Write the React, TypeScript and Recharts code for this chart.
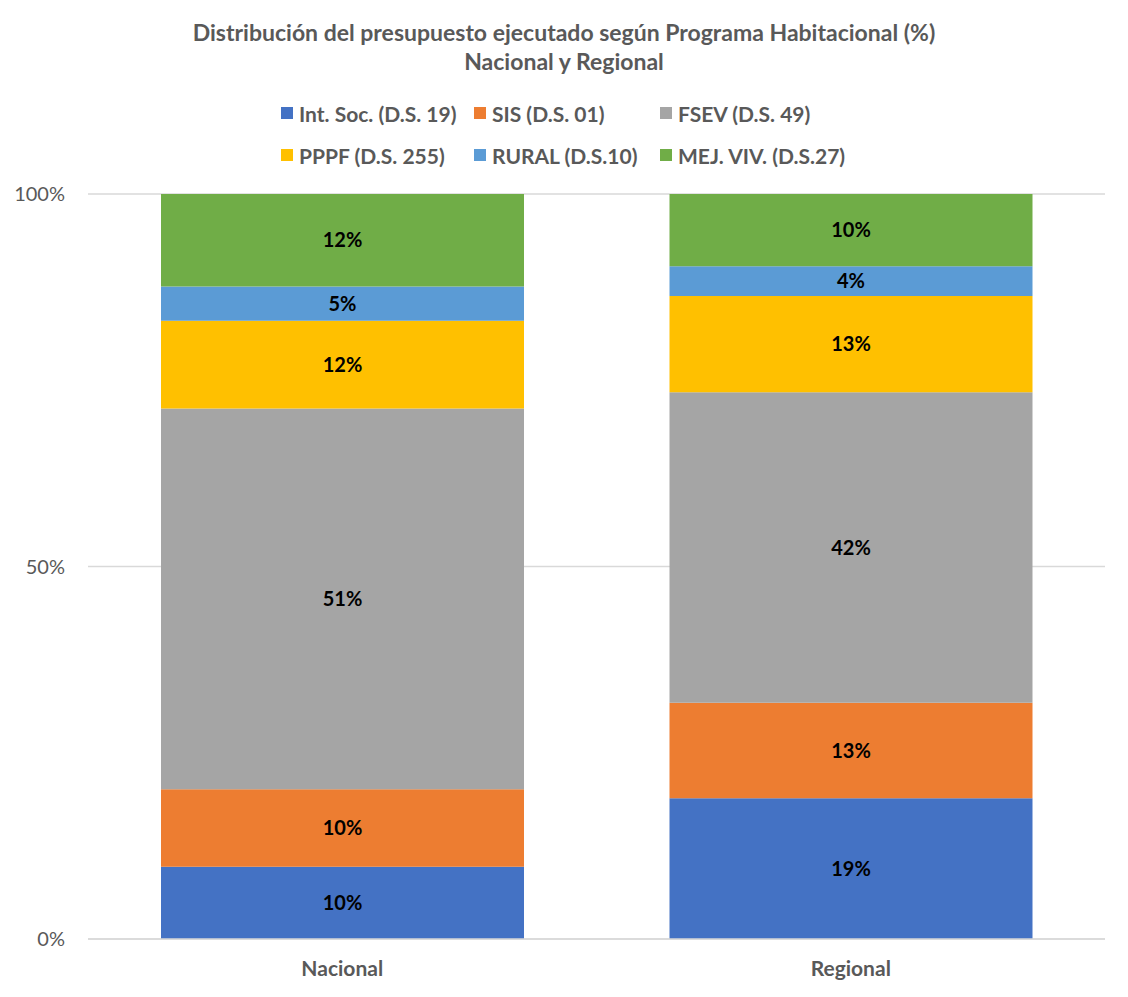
import React from "react";
import {
  BarChart,
  Bar,
  XAxis,
  YAxis,
  CartesianGrid,
  LabelList,
  Legend,
} from "recharts";

const categories = ["Nacional", "Regional"];

// percent of executed budget, bottom to top
const intSoc = [9.7, 18.9];
const sis = [10.4, 12.8];
const fsev = [51.1, 41.7];
const pppf = [11.8, 12.9];
const rural = [4.6, 4.0];
const mejViv = [12.4, 9.7];

const yTicks = [0, 0.5, 1];

const series = [
  { key: "intSoc", name: "Int. Soc. (D.S. 19)", values: intSoc, color: "#4472C4" },
  { key: "sis", name: "SIS (D.S. 01)", values: sis, color: "#ED7D31" },
  { key: "fsev", name: "FSEV (D.S. 49)", values: fsev, color: "#A5A5A5" },
  { key: "pppf", name: "PPPF (D.S. 255)", values: pppf, color: "#FFC000" },
  { key: "rural", name: "RURAL (D.S.10)", values: rural, color: "#5B9BD5" },
  { key: "mejViv", name: "MEJ. VIV. (D.S.27)", values: mejViv, color: "#70AD47" },
];

const data = categories.map((c, i) => {
  const row: Record<string, string | number> = { name: c };
  series.forEach((s) => (row[s.key] = s.values[i]));
  return row;
});

const FONT = "Lato, 'Open Sans', sans-serif";
const GRAY = "#595959";

function LegendGrid() {
  return (
    <div
      style={{
        display: "grid",
        gridTemplateColumns: "193px 186px 260px",
        gridAutoRows: "42px",
        marginLeft: 281,
        fontFamily: FONT,
        fontWeight: 700,
        fontSize: 21,
        color: GRAY,
      }}
    >
      {series.map((s) => (
        <div key={s.key} style={{ display: "flex", alignItems: "center" }}>
          <span
            style={{
              width: 12,
              height: 12,
              background: s.color,
              marginRight: 6,
              display: "inline-block",
              flex: "none",
            }}
          />
          <span style={{ whiteSpace: "nowrap" }}>{s.name}</span>
        </div>
      ))}
    </div>
  );
}

export default function App() {
  return (
    <div
      style={{
        position: "absolute",
        left: 0,
        top: 0,
        width: 1128,
        height: 997,
        background: "#fff",
        fontFamily: FONT,
      }}
    >
      <div
        style={{
          position: "absolute",
          top: 18,
          left: 0,
          width: 1128,
          textAlign: "center",
          fontWeight: 700,
          fontSize: 23,
          lineHeight: "29px",
          color: GRAY,
        }}
      >
        Distribución del presupuesto ejecutado según Programa Habitacional (%)
        <br />
        Nacional y Regional
      </div>
      <BarChart
        width={1128}
        height={997}
        data={data}
        stackOffset="expand"
        margin={{ top: 194, right: 23, left: 0, bottom: 0 }}
      >
        <CartesianGrid vertical={false} stroke="#D9D9D9" strokeWidth={1.5} />
        <XAxis
          dataKey="name"
          height={58}
          axisLine={{ stroke: "#D9D9D9", strokeWidth: 1.5 }}
          tickLine={false}
          tickSize={0}
          tickMargin={22}
          tick={{ fill: GRAY, fontSize: 21, fontWeight: 700, fontFamily: FONT }}
        />
        <YAxis
          width={88}
          ticks={yTicks}
          domain={[0, 1]}
          axisLine={false}
          tickLine={false}
          tickSize={0}
          tickMargin={23}
          tickFormatter={(v: number) => `${Math.round(v * 100)}%`}
          tick={{ fill: GRAY, fontSize: 20, fontFamily: FONT }}
        />
        <Legend
          layout="horizontal"
          verticalAlign="middle"
          align="center"
          wrapperStyle={{ top: 92, left: 0, width: 1128 }}
          content={() => <LegendGrid />}
        />
        {series.map((s) => (
          <Bar
            key={s.key}
            dataKey={s.key}
            name={s.name}
            stackId="a"
            fill={s.color}
            barSize={363}
            isAnimationActive={false}
          >
            <LabelList
              dataKey={s.key}
              position="center"
              formatter={(v: number) => `${Math.round(v)}%`}
              style={{ fill: "#000", fontSize: 20, fontWeight: 700, fontFamily: FONT }}
            />
          </Bar>
        ))}
      </BarChart>
    </div>
  );
}
